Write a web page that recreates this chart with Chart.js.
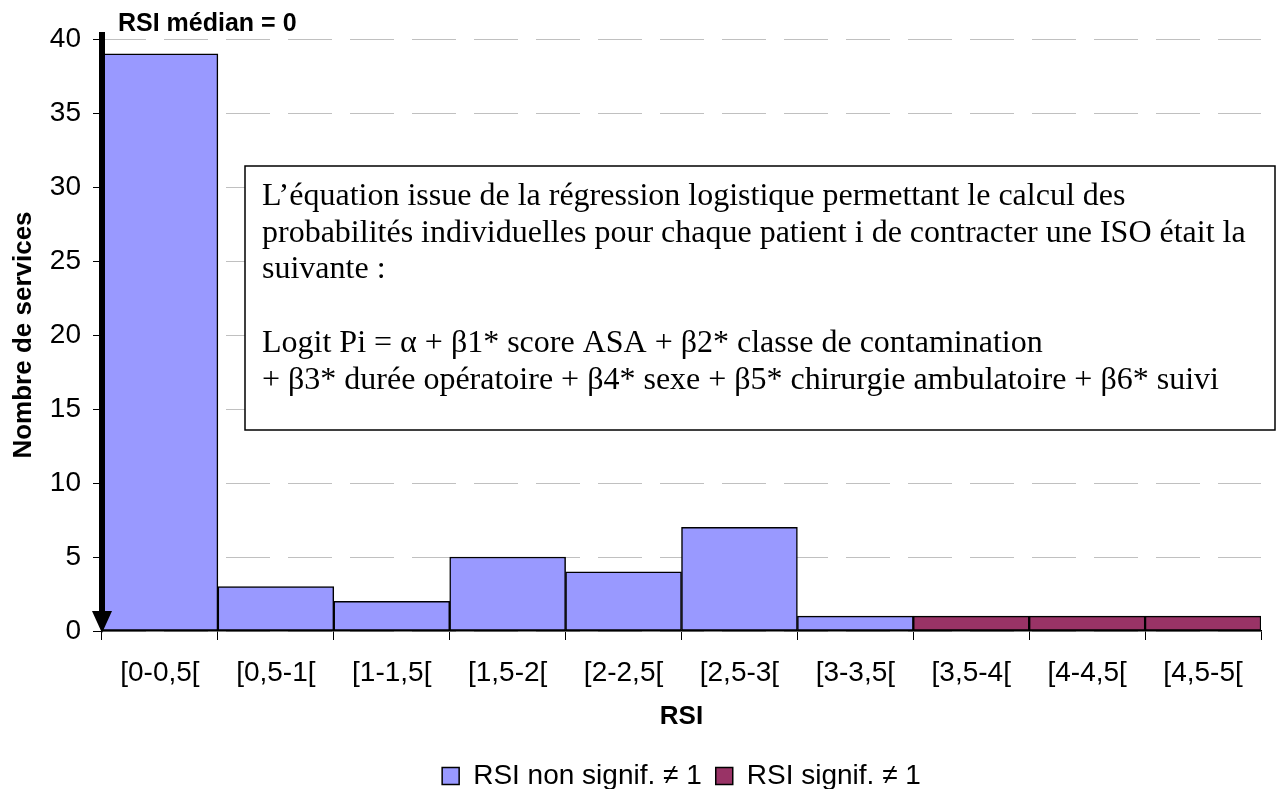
<!doctype html>
<html lang="fr">

<head>
  <meta charset="utf-8">
  <title>RSI par service</title>
  <script src="https://cdn.jsdelivr.net/npm/chart.js@4.4.1/dist/chart.umd.min.js"></script>
  <style>
    html, body { margin: 0; padding: 0; background: #fff; }
    #wrap { width: 1279px; height: 789px; }
  </style>
</head>

<body>
  <div id="wrap"><canvas id="myChart" width="1279" height="789"></canvas></div>

  <script>
    // données
    const categories = ['[0-0,5[', '[0,5-1[', '[1-1,5[', '[1,5-2[', '[2-2,5[', '[2,5-3[', '[3-3,5[', '[3,5-4[', '[4-4,5[', '[4,5-5['];
    const nonSignif = [39, 3, 2, 5, 4, 7, 1, null, null, null];
    const signif = [null, null, null, null, null, null, null, 1, 1, 1];
    const yTicks = [0, 5, 10, 15, 20, 25, 30, 35, 40];

    const boxLines = [
      'L\u2019équation issue de la régression logistique permettant le calcul des',
      'probabilités individuelles pour chaque patient i de contracter une ISO était la',
      'suivante :',
      '',
      'Logit Pi = \u03b1 + \u03b21* score ASA + \u03b22* classe de contamination',
      '+ \u03b23* durée opératoire + \u03b24* sexe + \u03b25* chirurgie ambulatoire + \u03b26* suivi'
    ];

    const sans = 'Liberation Sans, Arial, sans-serif';

    // flèche "RSI médian = 0" + encadré du texte
    const extras = {
      id: 'extras',
      afterDatasetsDraw(chart) {
        const ctx = chart.ctx;
        const area = chart.chartArea;
        const y0 = chart.scales.y.getPixelForValue(0);
        const x = area.left;
        ctx.save();
        // flèche
        ctx.fillStyle = '#000';
        ctx.fillRect(x - 3, 32, 6, y0 - 20 - 32);
        ctx.beginPath();
        ctx.moveTo(x - 10, y0 - 20);
        ctx.lineTo(x + 10, y0 - 20);
        ctx.lineTo(x, y0 + 2);
        ctx.closePath();
        ctx.fill();
        ctx.font = 'bold 25px ' + sans;
        ctx.textBaseline = 'middle';
        ctx.fillText('RSI médian = 0', 118, 24);

        // encadré
        ctx.fillStyle = '#fff';
        ctx.fillRect(245, 166, 1030, 264);
        ctx.strokeStyle = '#000';
        ctx.lineWidth = 1.5;
        ctx.strokeRect(245, 166, 1030, 264);
        ctx.fillStyle = '#000';
        ctx.font = '32px Liberation Serif, Times New Roman, serif';
        ctx.textBaseline = 'alphabetic';
        boxLines.forEach((t, i) => {
          ctx.fillText(t, 262, 205 + i * 36.7);
        });
        ctx.restore();
      }
    };

    const ctx = document.getElementById('myChart').getContext('2d');
    const myChart = new Chart(ctx, {
      type: 'bar',
      data: {
        labels: categories,
        datasets: [{
          label: 'RSI non signif. \u2260 1',
          data: nonSignif,
          backgroundColor: '#9999ff',
          borderColor: '#000',
          borderWidth: 1.5,
          borderSkipped: false
        }, {
          label: 'RSI signif. \u2260 1',
          data: signif,
          backgroundColor: '#993366',
          borderColor: '#000',
          borderWidth: 1.5,
          borderSkipped: false
        }]
      },
      options: {
        responsive: false,
        animation: false,
        maintainAspectRatio: false,
        barPercentage: 1,
        categoryPercentage: 1,
        layout: { padding: { left: 0, right: 18, top: 39, bottom: -11 } },
        plugins: {
          tooltip: { enabled: false },
          legend: {
            position: 'bottom',
            fullSize: false,
            labels: {
              color: '#000',
              font: { family: sans, size: 28 },
              boxWidth: 17,
              boxHeight: 17,
              padding: 14
            }
          }
        },
        scales: {
          x: {
            stacked: true,
            afterFit: s => { s.height = 117; },
            grid: { drawOnChartArea: false, drawTicks: true, tickLength: 9, color: '#000', tickColor: '#000' },
            border: { display: true, color: '#000', width: 1.5 },
            ticks: { color: '#000', font: { family: sans, size: 28 }, padding: 16, maxRotation: 0 },
            title: { display: true, text: 'RSI', color: '#000', font: { family: sans, size: 26, weight: 'bold' }, padding: { top: 0, bottom: 16 } }
          },
          y: {
            stacked: true,
            min: 0,
            max: 40,
            afterFit: s => { s.width = 102; },
            afterBuildTicks: s => { s.ticks = yTicks.map(v => ({ value: v })); },
            grid: { color: '#c0c0c0', lineWidth: 1, tickColor: '#000', tickLength: 9 },
            border: { display: false, dash: [44, 18] },
            ticks: { color: '#000', font: { family: sans, size: 28 }, padding: 12 },
            title: { display: true, text: 'Nombre de services', color: '#000', font: { family: sans, size: 26, weight: 'bold' }, padding: { top: 8, bottom: 0 } }
          }
        }
      },
      plugins: [extras]
    });
  </script>
</body>

</html>
